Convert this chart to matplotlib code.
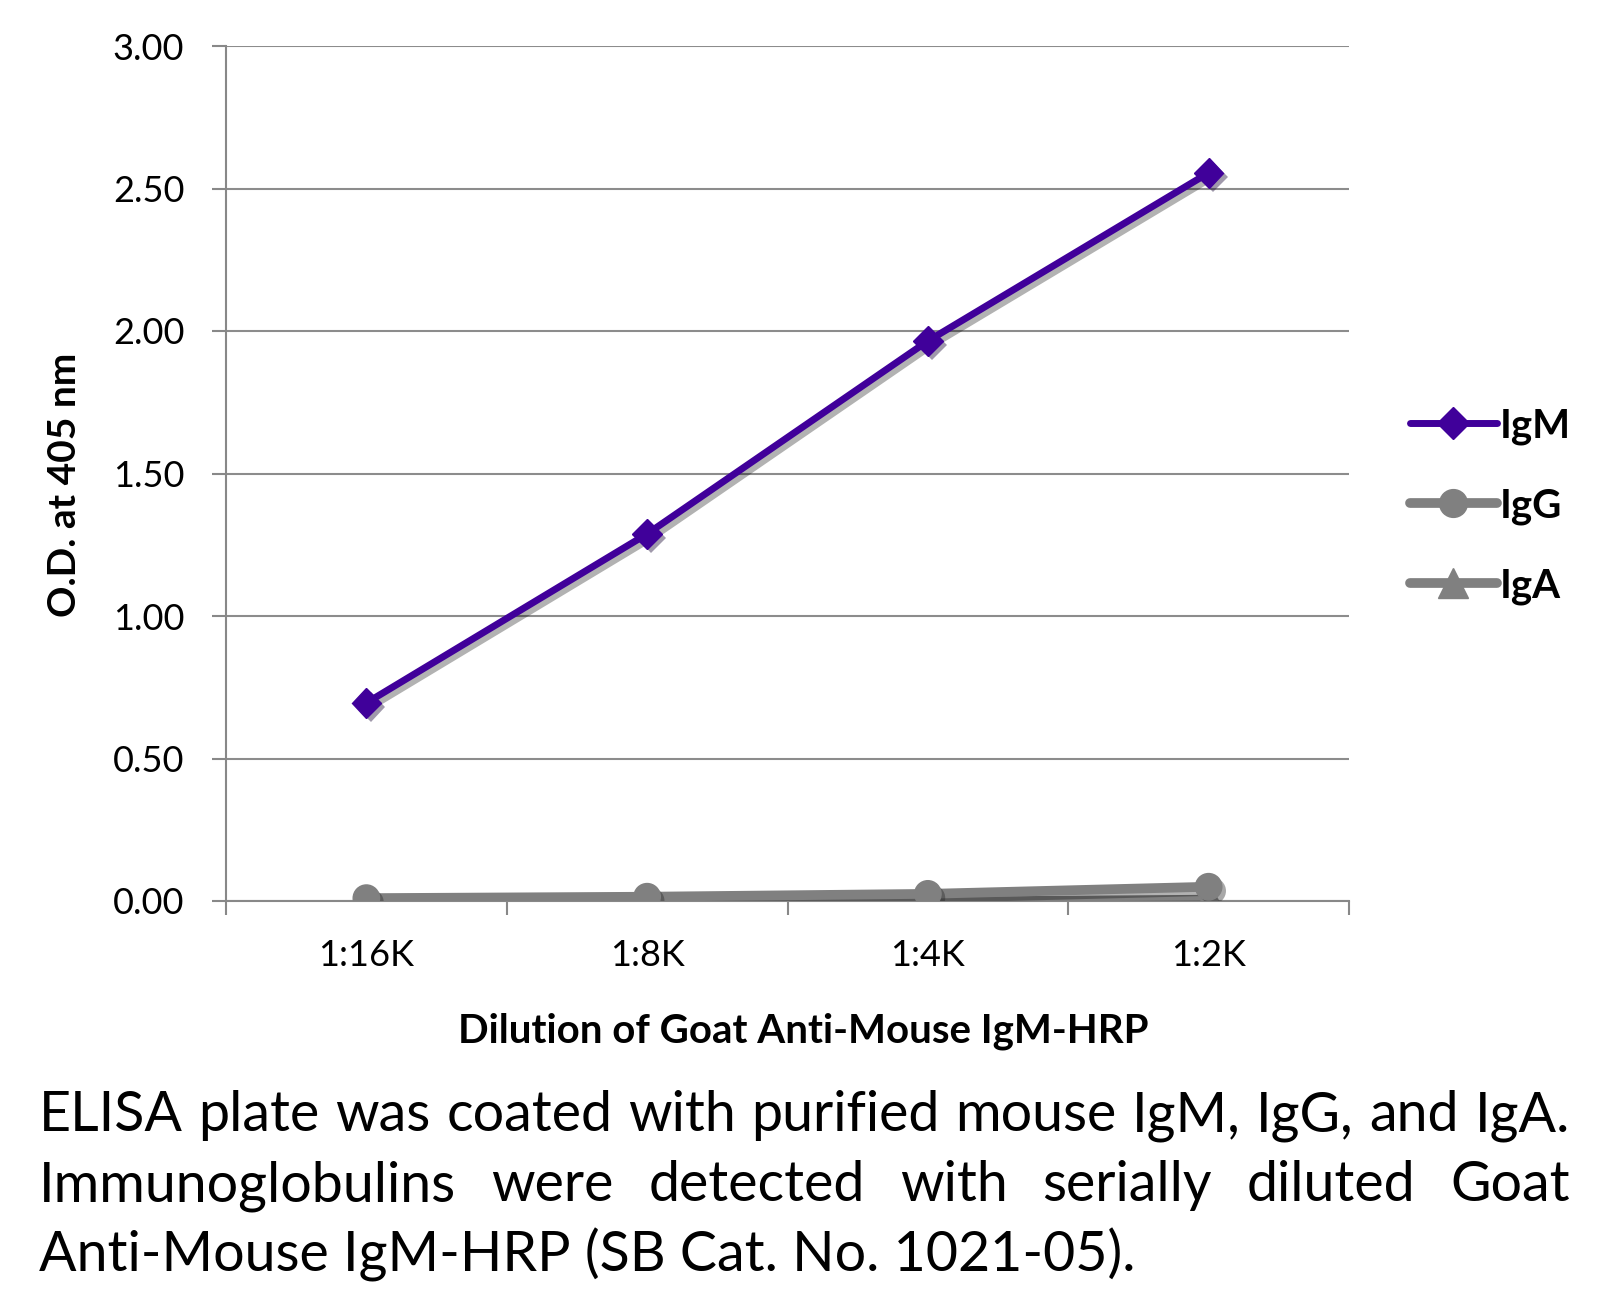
import matplotlib

matplotlib.use("Agg")
import matplotlib.pyplot as plt
import matplotlib.patheffects as pe
from matplotlib.lines import Line2D
import numpy as np

plt.rcParams["font.family"] = ["Lato", "DejaVu Sans"]

# data
dilutions = ["1:16K", "1:8K", "1:4K", "1:2K"]
igm = [0.695, 1.288, 1.965, 2.555]
igg = [0.010, 0.015, 0.025, 0.050]
iga = [0.002, 0.003, 0.005, 0.012]
y_ticks = [0.0, 0.5, 1.0, 1.5, 2.0, 2.5, 3.0]

caption_lines = [
    "ELISA plate was coated with purified mouse IgM, IgG, and IgA.",
    "Immunoglobulins were detected with serially diluted Goat",
    "Anti-Mouse IgM-HRP (SB Cat. No. 1021-05).",
]

PURPLE = "#40009a"
GRAY = "#808080"
W, H = 1617, 1306

fig = plt.figure(figsize=(W / 100, H / 100), dpi=100)
ax = fig.add_axes([226 / W, 1 - 901 / H, (1349 - 226) / W, (901 - 46) / H])

x = np.arange(len(dilutions))
line_fx = [pe.SimpleLineShadow(offset=(3, -3), alpha=0.3), pe.Normal()]
mark_fx = [pe.SimplePatchShadow(offset=(3, -3), alpha=0.4), pe.Normal()]

series = [
    (iga, GRAY, "^", 4, 20),
    (igg, GRAY, "o", 7, 19),
    (igm, PURPLE, "D", 5, 15),
]
for vals, col, mk, lw, ms in series:
    ax.plot(x, vals, color=col, lw=lw, solid_capstyle="round",
            path_effects=line_fx, zorder=3)
    ax.plot(x, vals, ls="none", marker=mk, ms=ms, color=col, mec=col,
            path_effects=mark_fx, zorder=4)

ax.set_xlim(-0.5, len(dilutions) - 0.5)
ax.set_ylim(0, 3.0)
ax.set_yticks(y_ticks)
ax.set_yticklabels([f"{v:.2f}" for v in y_ticks])
ax.set_xticks(x)
ax.set_xticklabels(dilutions)
ax.set_xticks(np.arange(len(dilutions) + 1) - 0.5, minor=True)
ax.tick_params(axis="x", which="major", length=0, pad=27, labelsize=26)
ax.tick_params(axis="x", which="minor", length=10, width=1.5, color="#888888",
               direction="out")
ax.tick_params(axis="y", length=10, width=1.5, color="#888888", pad=20,
               labelsize=26)
ax.yaxis.grid(True, color="#8c8c8c", lw=1.5)
ax.set_axisbelow(True)
for s in ["top", "right"]:
    ax.spines[s].set_visible(False)
for s in ["left", "bottom"]:
    ax.spines[s].set_color("#888888")
    ax.spines[s].set_linewidth(1.5)

fig.text(64 / W, 1 - 485 / H, "O.D. at 405 nm", rotation=90, ha="center",
         va="center", fontsize=28, fontweight="bold")
fig.text(803 / W, 1 - 1031 / H, "Dilution of Goat Anti-Mouse IgM-HRP",
         ha="center", va="center", fontsize=29, fontweight="bold")

handles = [
    Line2D([], [], color=PURPLE, lw=5, marker="D", ms=16, solid_capstyle="round"),
    Line2D([], [], color=GRAY, lw=7, marker="o", ms=20, solid_capstyle="round"),
    Line2D([], [], color=GRAY, lw=7, marker="^", ms=21, solid_capstyle="round"),
]
fig.legend(handles, ["IgM", "IgG", "IgA"], loc="center left",
           bbox_to_anchor=(1410 / W, 1 - 506 / H), frameon=False,
           borderpad=0, borderaxespad=0,
           handlelength=2.15, handletextpad=0.08, labelspacing=1.05,
           prop={"size": 29, "weight": "bold"})

# caption: first two lines justified across the full width
left, right = 39 / W, 1570 / W
baselines = [1131, 1201, 1271]
fs = 40
r = fig.canvas.get_renderer()
probe = fig.text(0, 0, caption_lines[0], fontsize=fs)
wpx = probe.get_window_extent(r).width
probe.remove()
if wpx > (right - left) * W:
    fs = fs * (right - left) * W / wpx

for i, (txt, yb) in enumerate(zip(caption_lines, baselines)):
    yf = 1 - yb / H
    if i == len(caption_lines) - 1:
        fig.text(left, yf, txt, fontsize=fs, va="baseline")
        continue
    words = txt.split()
    widths = []
    for wd in words:
        t = fig.text(0, 0, wd, fontsize=fs)
        widths.append(t.get_window_extent(r).width / W)
        t.remove()
    gap = ((right - left) - sum(widths)) / (len(words) - 1)
    xpos = left
    for wd, ww in zip(words, widths):
        fig.text(xpos, yf, wd, fontsize=fs, va="baseline")
        xpos += ww + gap

fig.savefig("out.png", dpi=100)
